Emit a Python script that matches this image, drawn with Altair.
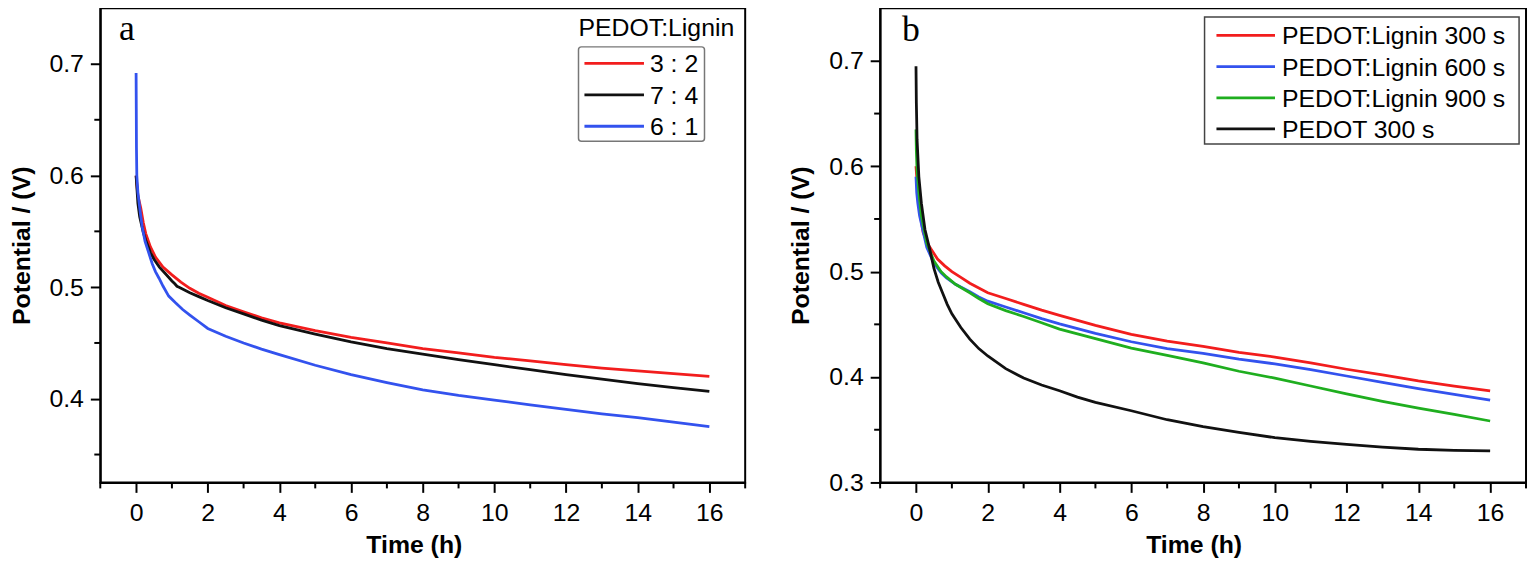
import altair as alt
import pandas as pd

FONT = "Liberation Sans"
SERIF = "Liberation Serif"

# ---------------- panel a data ----------------
a_labels = ["3 : 2", "7 : 4", "6 : 1"]
a_colors = ["#f21d1d", "#111111", "#3352ee"]

a_red_t = [0, 0.05, 0.13, 0.2, 0.27, 0.4, 0.54, 0.75, 1.0, 1.25, 1.5, 1.75, 2, 2.5, 3, 3.5, 4,
           5, 6, 7, 8, 9, 10, 11, 12, 13, 14, 15, 16]
a_red_v = [0.600, 0.582, 0.571, 0.558, 0.548, 0.536, 0.527, 0.518, 0.511, 0.5045, 0.499, 0.4945, 0.491,
           0.4835, 0.478, 0.4725, 0.468, 0.461, 0.455, 0.450, 0.445, 0.441, 0.437, 0.434, 0.4305, 0.4275,
           0.425, 0.4225, 0.420]

a_black_t = [0, 0.05, 0.1, 0.2, 0.27, 0.4, 0.5, 0.65, 0.82, 1.0, 1.08, 1.14, 1.2, 1.5, 1.75, 2, 2.5, 3, 3.5, 4,
             5, 6, 7, 8, 9, 10, 11, 12, 13, 14, 15, 16]
a_black_v = [0.600, 0.575, 0.563, 0.549, 0.542, 0.531, 0.525, 0.518, 0.512, 0.5055, 0.5030, 0.5008, 0.5000,
             0.495, 0.4915, 0.488, 0.4815, 0.476, 0.4705, 0.4655, 0.458, 0.451, 0.445, 0.440, 0.435, 0.4305,
             0.426, 0.4217, 0.4175, 0.4136, 0.410, 0.4065]

a_blue_t = [0, 0.005, 0.01, 0.02, 0.05, 0.08, 0.12, 0.17, 0.25, 0.36, 0.45, 0.54, 0.64, 0.75, 0.91, 1.1, 1.3,
            1.5, 1.75, 2, 2.5, 3, 3.5, 4, 5, 6, 7, 8, 9, 10, 11, 12, 13, 14, 15, 16]
a_blue_v = [0.692, 0.66, 0.625, 0.600, 0.585, 0.577, 0.566, 0.554, 0.541, 0.530, 0.521, 0.514, 0.508, 0.501,
            0.492, 0.486, 0.480, 0.475, 0.469, 0.463, 0.456, 0.450, 0.4445, 0.4395, 0.430, 0.4217, 0.4145,
            0.408, 0.403, 0.3988, 0.3945, 0.3905, 0.3865, 0.383, 0.379, 0.375]

# ---------------- panel b data ----------------
b_labels = ["PEDOT:Lignin 300 s", "PEDOT:Lignin 600 s", "PEDOT:Lignin 900 s", "PEDOT 300 s"]
b_colors = ["#f21d1d", "#3352ee", "#1fae1f", "#111111"]

b_red_t = [0, 0.05, 0.1, 0.2, 0.35, 0.6, 0.8, 1.0, 1.25, 1.5, 1.75, 2, 2.5, 3, 3.5, 4,
           5, 6, 7, 8, 9, 10, 11, 12, 13, 14, 15, 16]
b_red_v = [0.600, 0.575, 0.558, 0.537, 0.525, 0.512, 0.5055, 0.500, 0.4945, 0.489, 0.4845, 0.480, 0.4745,
           0.469, 0.4635, 0.4585, 0.449, 0.4405, 0.434, 0.429, 0.4235, 0.419, 0.4135, 0.4074, 0.402, 0.3963,
           0.3915, 0.3868]

b_blue_t = [0, 0.02, 0.05, 0.1, 0.18, 0.3, 0.5, 0.7, 0.85, 1.1, 1.5, 1.75, 2, 2.5, 3, 3.5, 4,
            5, 6, 7, 8, 9, 10, 11, 12, 13, 14, 15, 16]
b_blue_v = [0.590, 0.575, 0.565, 0.553, 0.541, 0.523, 0.508, 0.499, 0.494, 0.488, 0.481, 0.476, 0.472,
            0.4665, 0.461, 0.4555, 0.4505, 0.4415, 0.4335, 0.427, 0.4225, 0.417, 0.4125, 0.407, 0.401,
            0.395, 0.389, 0.3835, 0.378]

b_green_t = [0, 0.01, 0.03, 0.08, 0.15, 0.3, 0.5, 0.7, 0.85, 1.1, 1.5, 1.75, 2, 2.5, 3, 3.5, 4,
             5, 6, 7, 8, 9, 10, 11, 12, 13, 14, 15, 16]
b_green_v = [0.635, 0.615, 0.595, 0.575, 0.553, 0.527, 0.510, 0.500, 0.495, 0.488, 0.480, 0.4745, 0.4695,
             0.463, 0.4575, 0.4515, 0.4455, 0.4365, 0.4275, 0.4205, 0.4135, 0.4055, 0.399, 0.3915, 0.384,
             0.377, 0.3705, 0.3645, 0.3583]

b_black_t = [0, 0.01, 0.03, 0.08, 0.15, 0.25, 0.37, 0.5, 0.62, 0.75, 0.87, 1.0, 1.25, 1.5, 1.75, 2, 2.5, 3,
             3.5, 4, 4.5, 5, 6, 7, 8, 9, 10, 11, 12, 13, 14, 15, 16]
b_black_v = [0.695, 0.660, 0.625, 0.590, 0.565, 0.540, 0.523, 0.503, 0.490, 0.479, 0.469, 0.460, 0.447,
             0.436, 0.427, 0.420, 0.408, 0.399, 0.3925, 0.387, 0.381, 0.376, 0.368, 0.3595, 0.353, 0.3475,
             0.3425, 0.339, 0.3362, 0.3335, 0.3315, 0.3305, 0.330]

# axis ticks
x_major = [0, 2, 4, 6, 8, 10, 12, 14, 16]
x_minor = [-1, 1, 3, 5, 7, 9, 11, 13, 15, 17]
a_y_major = [0.4, 0.5, 0.6, 0.7]
a_y_minor = [0.35, 0.45, 0.55, 0.65]
b_y_major = [0.3, 0.4, 0.5, 0.6, 0.7]
b_y_minor = [0.35, 0.45, 0.55, 0.65]

W_A, W_B, H = 650, 651, 478
LW = 2.8


def frame(name, t, v):
    return pd.DataFrame({"t": t, "v": v, "series": name})


def x_axis():
    return alt.Axis(values=x_major, format="d", title="Time (h)", titleX=316, grid=False,
                    tickSize=10, tickWidth=2, tickColor="black", domainColor="black", domainWidth=2,
                    labelFont=FONT, labelFontSize=25, labelColor="black", labelPadding=8, labelFlush=False,
                    titleFont=FONT, titleFontSize=25, titleFontWeight="bold", titleColor="black",
                    titlePadding=8)


def y_axis(vals):
    return alt.Axis(values=vals, format=".1f", title="Potential / (V)", grid=False,
                    tickSize=10, tickWidth=2, tickColor="black", domainColor="black", domainWidth=2,
                    labelFont=FONT, labelFontSize=25, labelColor="black", labelPadding=7, labelFlush=False,
                    titleFont=FONT, titleFontSize=25, titleFontWeight="bold", titleColor="black",
                    titlePadding=15)


def panel(series, labels, colors, ydom, ymajor, yminor, width, letter, letter_xy,
          box, rule_x, text_x, rows, box_stroke, box_radius, legend_title=None):
    xs = alt.Scale(domain=[-1, 17], nice=False, zero=False)
    ys = alt.Scale(domain=ydom, nice=False, zero=False)
    cs = alt.Scale(domain=labels, range=colors)

    lines = []
    for df in series:
        lines.append(
            alt.Chart(df).mark_line(strokeWidth=LW).encode(
                x=alt.X("t:Q", scale=xs, axis=x_axis()),
                y=alt.Y("v:Q", scale=ys, axis=y_axis(ymajor)),
                color=alt.Color("series:N", scale=cs, legend=None),
            )
        )
    line_layer = alt.layer(*lines)

    minor_x = alt.Chart(pd.DataFrame({"t": x_minor})).mark_rule(color="black", strokeWidth=2).encode(
        x=alt.X("t:Q", scale=xs, axis=x_axis()), y=alt.value(H), y2=alt.value(H + 6))
    minor_y = alt.Chart(pd.DataFrame({"v": yminor})).mark_rule(color="black", strokeWidth=2).encode(
        y=alt.Y("v:Q", scale=ys, axis=None), x=alt.value(0), x2=alt.value(-6))

    leg_df = pd.DataFrame({"series": labels})
    row_scale = alt.Scale(type="point", domain=labels, range=rows, padding=0)
    box_layer = alt.Chart(pd.DataFrame({"k": [0]})).mark_rect(
        fill="white", stroke=box_stroke, strokeWidth=1.5, cornerRadius=box_radius).encode(
        x=alt.value(box[0]), x2=alt.value(box[1]), y=alt.value(box[2]), y2=alt.value(box[3]))
    leg_rules = alt.Chart(leg_df).mark_rule(strokeWidth=LW).encode(
        x=alt.value(rule_x[0]), x2=alt.value(rule_x[1]),
        y=alt.Y("series:N", scale=row_scale, axis=None),
        color=alt.Color("series:N", scale=cs, legend=None))
    leg_text = alt.Chart(leg_df).mark_text(align="left", baseline="middle", font=FONT, fontSize=25,
                                           color="black", dy=1).encode(
        x=alt.value(text_x), y=alt.Y("series:N", scale=row_scale, axis=None), text="series:N")

    letter_layer = alt.Chart(pd.DataFrame({"s": [letter]})).mark_text(
        align="left", baseline="alphabetic", font=SERIF, fontSize=36, color="black").encode(
        x=alt.value(letter_xy[0]), y=alt.value(letter_xy[1]), text="s:N")

    layers = [line_layer, minor_x, minor_y, box_layer, leg_rules, leg_text, letter_layer]
    if legend_title:
        layers.append(
            alt.Chart(pd.DataFrame({"s": [legend_title]})).mark_text(
                align="left", baseline="alphabetic", font=FONT, fontSize=25, color="black").encode(
                x=alt.value(box[0]), y=alt.value(box[2] - 10.5), text="s:N"))
    return alt.layer(*layers).resolve_scale(y="independent").properties(width=width, height=H)


series_a = [frame(a_labels[0], a_red_t, a_red_v),
            frame(a_labels[1], a_black_t, a_black_v),
            frame(a_labels[2], a_blue_t, a_blue_v)]
series_b = [frame(b_labels[0], b_red_t, b_red_v),
            frame(b_labels[1], b_blue_t, b_blue_v),
            frame(b_labels[2], b_green_t, b_green_v),
            frame(b_labels[3], b_black_t, b_black_v)]

pa = panel(series_a, a_labels, a_colors, [0.325, 0.75], a_y_major, a_y_minor, W_A, "a", (19, 32),
           (482, 609, 39, 134), (488, 548), 554, [55.7, 119], "#777777", 3, legend_title="PEDOT:Lignin")
pb = panel(series_b, b_labels, b_colors, [0.3, 0.75], b_y_major, b_y_minor, W_B, "b", (22, 33),
           (327, 644, 9, 137), (339, 398), 405, [27.5, 121.7], "#444444", 0)

chart = (alt.hconcat(pa, pb, spacing=41)
         .resolve_scale(color="independent")
         .configure_view(stroke="black", strokeWidth=2))

try:
    chart = chart.properties(padding={"left": 0, "top": -3, "right": 0, "bottom": 0})
    chart.to_dict()
except Exception:
    chart = chart.properties(padding={"left": 0, "top": 0, "right": 0, "bottom": 0})

chart.save("out.html", embed_options={"renderer": "svg", "actions": False})
